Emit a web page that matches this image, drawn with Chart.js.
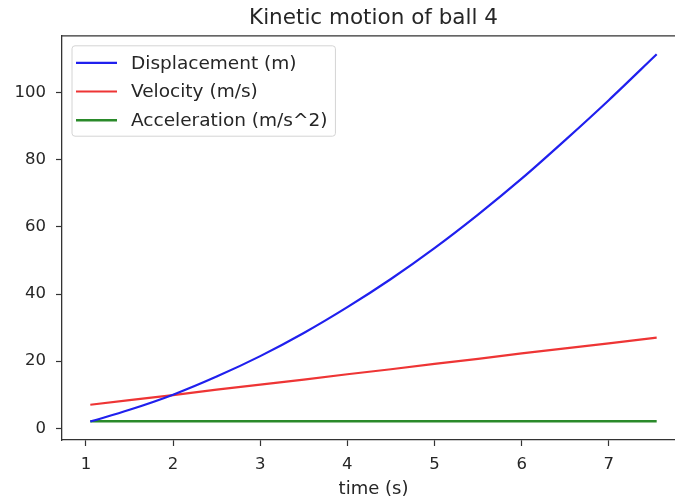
<!DOCTYPE html>
<html>
<head>
<meta charset="utf-8">
<script src="https://cdn.jsdelivr.net/npm/chart.js@4.4.1/dist/chart.umd.min.js"></script>
<style>
html, body { margin: 0; padding: 0; overflow: hidden; background: #fff; width: 675px; height: 500px; }
canvas { display: block; }
</style>
</head>
<body>
<canvas id="c" width="700" height="500"></canvas>
<script>
const chartTitle = 'Kinetic motion of ball 4';
const xLabel = 'time (s)';
const seriesNames = ['Displacement (m)', 'Velocity (m/s)', 'Acceleration (m/s^2)'];
const times = [1.05, 1.5, 2, 2.5, 3, 3.5, 4, 4.5, 5, 5.5, 6, 6.5, 7, 7.55];
const displacement = [2.0, 5.5, 10.0, 15.4, 21.5, 28.4, 36.1, 44.5, 53.7, 63.7, 74.4, 85.9, 97.8, 111.5];
const velocity = [7.0, 8.4, 9.9, 11.5, 13.0, 14.5, 16.1, 17.6, 19.2, 20.7, 22.3, 23.8, 25.3, 27.0];
const acceleration = [2.1, 2.1, 2.1, 2.1, 2.1, 2.1, 2.1, 2.1, 2.1, 2.1, 2.1, 2.1, 2.1, 2.1];
const xTicks = [1, 2, 3, 4, 5, 6, 7];
const yTicks = [0, 20, 40, 60, 80, 100];

const toPts = arr => times.map((t, i) => ({ x: t, y: arr[i] }));
const FONT = 'DejaVu Sans';
const TXT = '#262626';
const AX = '#333333';

// Legend drawn inside the plot area (matplotlib-style, upper left) from the datasets
const innerLegend = {
  id: 'innerLegend',
  afterDraw(chart) {
    const a = chart.chartArea, ctx = chart.ctx;
    const ds = chart.data.datasets;
    ctx.save();
    ctx.font = '18.5px "' + FONT + '"';
    let maxW = 0;
    ds.forEach(d => { maxW = Math.max(maxW, ctx.measureText(d.label).width); });
    const x0 = a.left + 10, y0 = a.top + 10;
    const textX = x0 + 59;
    const x1 = textX + maxW + 8;
    const rowStep = 28.7, firstRow = y0 + 17;
    const y1 = firstRow + (ds.length - 1) * rowStep + 16;
    const rad = 3;
    ctx.beginPath();
    ctx.moveTo(x0 + rad, y0);
    ctx.arcTo(x1, y0, x1, y1, rad);
    ctx.arcTo(x1, y1, x0, y1, rad);
    ctx.arcTo(x0, y1, x0, y0, rad);
    ctx.arcTo(x0, y0, x1, y0, rad);
    ctx.closePath();
    ctx.fillStyle = 'rgba(255,255,255,0.85)';
    ctx.fill();
    ctx.strokeStyle = '#d4d4d4';
    ctx.lineWidth = 1;
    ctx.stroke();
    ds.forEach((d, i) => {
      const y = firstRow + i * rowStep;
      ctx.strokeStyle = d.borderColor;
      ctx.lineWidth = d.borderWidth;
      ctx.beginPath();
      ctx.moveTo(x0 + 4, y);
      ctx.lineTo(x0 + 45, y);
      ctx.stroke();
      ctx.fillStyle = TXT;
      ctx.textAlign = 'left';
      ctx.textBaseline = 'middle';
      ctx.fillText(d.label, textX, y + 1);
    });
    ctx.restore();
  }
};

const topSpine = {
  id: 'topSpine',
  afterDraw(chart) {
    const a = chart.chartArea, ctx = chart.ctx;
    ctx.save();
    ctx.strokeStyle = AX;
    ctx.lineWidth = 1.3;
    ctx.beginPath();
    ctx.moveTo(a.left, a.top);
    ctx.lineTo(a.right, a.top);
    ctx.lineTo(a.right, a.bottom);
    ctx.stroke();
    ctx.restore();
  }
};

new Chart(document.getElementById('c'), {
  type: 'line',
  data: {
    datasets: [
      { label: seriesNames[0], data: toPts(displacement), borderColor: '#2020ee', backgroundColor: '#2020ee', borderWidth: 2.2, pointRadius: 0, cubicInterpolationMode: 'monotone' },
      { label: seriesNames[1], data: toPts(velocity), borderColor: '#ee3535', backgroundColor: '#ee3535', borderWidth: 2.2, pointRadius: 0 },
      { label: seriesNames[2], data: toPts(acceleration), borderColor: '#2a8a2a', backgroundColor: '#2a8a2a', borderWidth: 2.6, pointRadius: 0 }
    ]
  },
  options: {
    responsive: false,
    animation: false,
    layout: { padding: { left: 0, right: 15, top: 0, bottom: 0 } },
    plugins: {
      title: { display: true, fullSize: false, text: chartTitle, color: TXT, font: { family: FONT, size: 21.5, weight: 'normal' }, padding: { top: 6, bottom: 4 } },
      legend: { display: false },
      tooltip: { enabled: false }
    },
    scales: {
      x: {
        type: 'linear',
        min: 0.725,
        max: 7.875,
        afterFit(s) { s.height = 60; },
        afterBuildTicks(s) { s.ticks = xTicks.map(v => ({ value: v })); },
        grid: { drawOnChartArea: false, drawTicks: true, tickLength: 6, color: AX, tickWidth: 1.2 },
        border: { display: true, color: AX, width: 1.3 },
        ticks: { color: TXT, font: { family: FONT, size: 16.5 }, padding: 9, maxRotation: 0 },
        title: { display: true, text: xLabel, color: TXT, font: { family: FONT, size: 18 }, padding: { top: 0, bottom: 0 } }
      },
      y: {
        type: 'linear',
        min: -3.5,
        max: 117,
        afterFit(s) { s.width = 62; },
        afterBuildTicks(s) { s.ticks = yTicks.map(v => ({ value: v })); },
        grid: { drawOnChartArea: false, drawTicks: true, tickLength: 6, color: AX, tickWidth: 1.2 },
        border: { display: true, color: AX, width: 1.3 },
        ticks: { color: TXT, font: { family: FONT, size: 16.5 }, padding: 10 }
      }
    }
  },
  plugins: [innerLegend, topSpine]
});
</script>
</body>
</html>
